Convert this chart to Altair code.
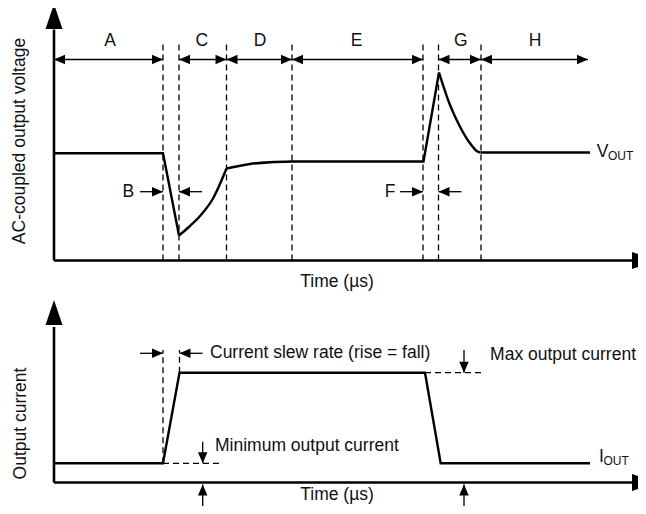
import altair as alt
import pandas as pd

# ---------------- layout constants ----------------
W, H = 630, 498
T_DOMAIN = [-46, 584]      # time units (diagram units)
Y_DOMAIN = [0, 498]
TOP_BASE = 245.5           # level of the voltage panel's time axis
BOT_BASE = 23.5            # level of the current panel's time axis
FONT = "Liberation Sans"
FS = 17.5

# ---------------- data ----------------
# phases of the load-transient response (top panel)
phase_labels = ["A", "C", "D", "E", "G", "H"]
phase_start = [0, 125, 172.5, 238, 384.5, 427]
phase_end = [109, 172.5, 238, 369, 427, 534]
phase_mid = [56, 147.7, 206, 302.7, 406.7, 481]
boundaries = [109, 125, 172.5, 238, 369, 384.5, 427]
phase_arrow_level = 201
phase_label_level = 219.5
boundary_top = 217

# narrow phases B and F
narrow_labels = ["B", "F"]
narrow_start = [109, 369]
narrow_end = [125, 384.5]
narrow_text_t = [74.3, 336]
narrow_level = 68.8
narrow_shaft = 23

# VOUT waveform (segments; c* are smooth curves)
vout_seg = ["s1"] * 3 + ["c1"] * 5 + ["c2"] * 4 + ["s2"] * 3 + ["c3"] * 6 + ["s3"] * 2
vout_t = [0, 109, 125,
          125, 136, 146, 159, 172.5,
          172.5, 196, 216, 238,
          238, 369.5, 385,
          385, 396, 406, 416, 422.7, 426.5,
          426.5, 536]
vout_v = [107.2, 107.2, 25,
          25, 34.5, 44.5, 62, 92,
          92, 96.5, 98.3, 99,
          99, 99, 188,
          188, 155.5, 133.8, 117.2, 109.5, 108,
          108, 108]
curved_segments = ["c1", "c2", "c3"]

# IOUT waveform (bottom panel)
cur_t = [0, 109, 125.5, 371, 386.7, 536]
cur_i = [19.2, 19.2, 109.8, 109.8, 19.2, 19.2]
i_min, i_max = 19.2, 109.8
slew_level = 129.2
marker_top = 132.5
min_arrow_t, max_arrow_t = 148.7, 410
min_arrow_top = 40.8
below_axis_from, below_axis_to = -24.2, -2
max_dash_end = 427.7
min_dash_end = 166

# axes
axis_end = 578
top_axis_height = 231
bot_axis_height = 155.5
big_head_tip = 603
top_head_tip = 256.5
bot_head_tip = 182.5

# arrow head shapes (tip at the origin)
BIG_UP = "M0,0L-0.68,2L0.68,2Z"
BIG_RIGHT = "M0,0L-2,-0.68L-2,0.68Z"
SM_RIGHT = "M0,0L-2,-0.86L-2,0.86Z"
SM_LEFT = "M0,0L2,-0.86L2,0.86Z"
SM_DOWN = "M0,0L-0.86,-2L0.86,-2Z"
SM_UP = "M0,0L-0.86,2L0.86,2Z"

# ---------------- build tables ----------------
X = alt.X("t:Q", scale=alt.Scale(domain=T_DOMAIN, nice=False, zero=False), axis=None)
X2 = alt.X2("t2:Q")
Y = alt.Y("y:Q", scale=alt.Scale(domain=Y_DOMAIN, nice=False, zero=False), axis=None)
Y2 = alt.Y2("y2:Q")

lines = []
for s, t, v in zip(vout_seg, vout_t, vout_v):
    lines.append({"seg": s, "t": t, "y": v + TOP_BASE,
                  "kind": "curve" if s in curved_segments else "straight"})
for t, i in zip(cur_t, cur_i):
    lines.append({"seg": "iout", "t": t, "y": i + BOT_BASE, "kind": "straight"})
for k, row in enumerate(lines):
    row["o"] = k
df_lines = pd.DataFrame(lines)

thick = [
    (0, TOP_BASE, axis_end, TOP_BASE),
    (0, TOP_BASE, 0, TOP_BASE + top_axis_height),
    (0, BOT_BASE, axis_end, BOT_BASE),
    (0, BOT_BASE, 0, BOT_BASE + bot_axis_height),
]
thin = []
for s, e in zip(phase_start, phase_end):
    thin.append((s, TOP_BASE + phase_arrow_level, e, TOP_BASE + phase_arrow_level))
for s, e in zip(narrow_start, narrow_end):
    yy = TOP_BASE + narrow_level
    thin.append((s - narrow_shaft, yy, s, yy))
    thin.append((e, yy, e + narrow_shaft, yy))
thin.append((boundaries[0] - narrow_shaft, BOT_BASE + slew_level, boundaries[0], BOT_BASE + slew_level))
thin.append((cur_t[2], BOT_BASE + slew_level, cur_t[2] + narrow_shaft, BOT_BASE + slew_level))
thin.append((max_arrow_t, BOT_BASE + marker_top, max_arrow_t, BOT_BASE + i_max))
thin.append((min_arrow_t, BOT_BASE + min_arrow_top, min_arrow_t, BOT_BASE + i_min))
for tt in [min_arrow_t, max_arrow_t]:
    thin.append((tt, BOT_BASE + below_axis_from, tt, BOT_BASE + below_axis_to))

dashed = []
for b in boundaries:
    dashed.append((b, TOP_BASE, b, TOP_BASE + boundary_top))
dashed.append((cur_t[1], BOT_BASE + i_min, cur_t[1], BOT_BASE + marker_top))
dashed.append((cur_t[2], BOT_BASE + i_max, cur_t[2], BOT_BASE + marker_top))
dashed.append((cur_t[3], BOT_BASE + i_max, max_dash_end, BOT_BASE + i_max))
dashed.append((cur_t[1], BOT_BASE + i_min, min_dash_end, BOT_BASE + i_min))


def rules_df(rows):
    return pd.DataFrame(rows, columns=["t", "y", "t2", "y2"])


heads = [
    (0, TOP_BASE + top_head_tip, BIG_UP, 625),
    (0, BOT_BASE + bot_head_tip, BIG_UP, 625),
    (big_head_tip, TOP_BASE, BIG_RIGHT, 625),
    (big_head_tip, BOT_BASE, BIG_RIGHT, 625),
]
for s, e in zip(phase_start, phase_end):
    heads.append((s, TOP_BASE + phase_arrow_level, SM_LEFT, 121))
    heads.append((e, TOP_BASE + phase_arrow_level, SM_RIGHT, 121))
for s, e in zip(narrow_start, narrow_end):
    heads.append((s, TOP_BASE + narrow_level, SM_RIGHT, 121))
    heads.append((e, TOP_BASE + narrow_level, SM_LEFT, 121))
heads.append((boundaries[0], BOT_BASE + slew_level, SM_RIGHT, 121))
heads.append((cur_t[2], BOT_BASE + slew_level, SM_LEFT, 121))
heads.append((max_arrow_t, BOT_BASE + i_max, SM_DOWN, 121))
heads.append((min_arrow_t, BOT_BASE + i_min, SM_DOWN, 121))
for tt in [min_arrow_t, max_arrow_t]:
    heads.append((tt, BOT_BASE + below_axis_to, SM_UP, 121))
df_heads = pd.DataFrame(heads, columns=["t", "y", "shape", "size"])

center_texts = [(m, TOP_BASE + phase_label_level, l) for l, m in zip(phase_labels, phase_mid)]
center_texts += [(tt, TOP_BASE + narrow_level, l) for l, tt in zip(narrow_labels, narrow_text_t)]
center_texts += [(283, TOP_BASE - 21.2, "Time (\u00b5s)"), (283, BOT_BASE - 12.5, "Time (\u00b5s)")]
left_texts = [
    (156, BOT_BASE + slew_level, "Current slew rate (rise = fall)"),
    (161, BOT_BASE + 36.8, "Minimum output current"),
    (542.7, TOP_BASE + 108.8, "V"),
    (545, BOT_BASE + 25.8, "I"),
]
right_texts = [
    (582, BOT_BASE + 127.5, "Max output current"),
]
sub_texts = [
    (554, TOP_BASE + 104.5, "OUT"),
    (549.5, BOT_BASE + 21.5, "OUT"),
]
rot_texts = [
    (-34, TOP_BASE + 119.5, "AC-coupled output voltage"),
    (-33, BOT_BASE + 59, "Output current"),
]


def tdf(rows):
    return pd.DataFrame(rows, columns=["t", "y", "text"])


# ---------------- layers ----------------
straight = alt.Chart(df_lines[df_lines["kind"] == "straight"]).mark_line(
    color="black", strokeWidth=2.4, strokeJoin="miter", strokeCap="butt"
).encode(x=X, y=Y, detail="seg:N", order="o:Q")

curves = alt.Chart(df_lines[df_lines["kind"] == "curve"]).mark_line(
    color="black", strokeWidth=2.4, interpolate="monotone", strokeCap="butt"
).encode(x=X, y=Y, detail="seg:N", order="o:Q")

thick_rules = alt.Chart(rules_df(thick)).mark_rule(color="black", strokeWidth=2.6).encode(
    x=X, x2=X2, y=Y, y2=Y2)
thin_rules = alt.Chart(rules_df(thin)).mark_rule(color="black", strokeWidth=1.3).encode(
    x=X, x2=X2, y=Y, y2=Y2)
dash_rules = alt.Chart(rules_df(dashed)).mark_rule(
    color="black", strokeWidth=1.3, strokeDash=[6, 4]).encode(x=X, x2=X2, y=Y, y2=Y2)

head_pts = alt.Chart(df_heads).mark_point(
    filled=True, color="black", opacity=1, strokeWidth=0
).encode(x=X, y=Y, shape=alt.Shape("shape:N", scale=None), size=alt.Size("size:Q", scale=None))

text_c = alt.Chart(tdf(center_texts)).mark_text(
    font=FONT, fontSize=FS, align="center", baseline="middle", color="#111"
).encode(x=X, y=Y, text="text:N")
text_l = alt.Chart(tdf(left_texts)).mark_text(
    font=FONT, fontSize=FS, align="left", baseline="middle", color="#111"
).encode(x=X, y=Y, text="text:N")
text_rt = alt.Chart(tdf(right_texts)).mark_text(
    font=FONT, fontSize=FS, align="right", baseline="middle", color="#111"
).encode(x=X, y=Y, text="text:N")
text_s = alt.Chart(tdf(sub_texts)).mark_text(
    font=FONT, fontSize=12, align="left", baseline="middle", color="#111"
).encode(x=X, y=Y, text="text:N")
text_r = alt.Chart(tdf(rot_texts)).mark_text(
    font=FONT, fontSize=FS, align="center", baseline="middle", angle=270, color="#111"
).encode(x=X, y=Y, text="text:N")

chart = alt.layer(
    dash_rules, thin_rules, thick_rules, straight, curves, head_pts,
    text_c, text_l, text_rt, text_s, text_r
).properties(
    width=W, height=H, padding=0, background="white",
    autosize=alt.AutoSizeParams(type="none"),
).configure_view(stroke=None)

chart.save("out.html", embed_options={"renderer": "svg", "actions": False})
